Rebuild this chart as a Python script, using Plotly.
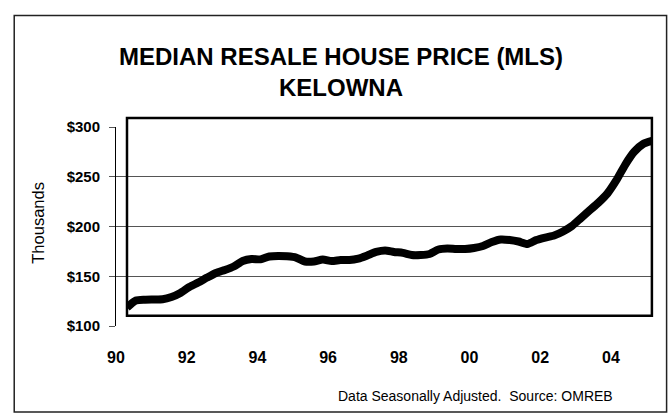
import plotly.graph_objects as go

# Quarterly median resale price (thousands of dollars), 1990 Q1 .. 2004 Q4
years = [1990 + i * 0.25 for i in range(60)]
prices = [
    118.6, 125.6, 126.4, 126.6, 126.8, 129.1, 133.2, 139.2, 143.7, 148.7,
    153.3, 156.3, 159.8, 165.3, 167.3, 167.0, 169.8, 170.4, 170.0, 168.8,
    164.8, 164.8, 166.8, 165.3, 166.3, 166.3, 167.8, 170.9, 174.4, 175.9,
    174.4, 173.5, 171.4, 171.4, 172.4, 176.9, 177.9, 177.4, 177.4, 178.4,
    180.4, 184.4, 186.9, 186.4, 184.9, 182.4, 186.4, 188.9, 191.0, 195.0,
    200.5, 208.4, 216.3, 224.1, 233.3, 246.5, 262.3, 275.1, 282.9, 286.0,
]
x_tick_vals = [1990, 1992, 1994, 1996, 1998, 2000, 2002, 2004]
x_tick_text = ["90", "92", "94", "96", "98", "00", "02", "04"]
y_tick_vals = [100, 150, 200, 250, 300]
y_tick_text = ["$100", "$150", "$200", "$250", "$300"]

FONT = "Liberation Sans, Arial, sans-serif"

W, H = 668, 413
L, R, T, B = 116.3, 15.6, 118, 87
pw = W - L - R
ph = H - T - B

def px(x):
    return (x - L) / pw

def py(y):
    return (H - B - y) / ph

fig = go.Figure()
# invisible trace so the main (visible) x axis is drawn
fig.add_trace(go.Scatter(
    x=[years[0], years[-1]], y=[prices[0], prices[-1]], xaxis="x", yaxis="y",
    mode="markers", marker=dict(opacity=0), showlegend=False, hoverinfo="skip",
))
fig.add_trace(go.Scatter(
    x=years, y=prices, xaxis="x2", yaxis="y", mode="lines",
    line=dict(color="black", width=8, shape="spline", smoothing=0.6),
    showlegend=False, hoverinfo="skip",
))

fig.update_layout(
    width=W, height=H,
    margin=dict(l=L, r=R, t=T, b=B),
    paper_bgcolor="white", plot_bgcolor="rgba(0,0,0,0)",
    font=dict(family=FONT, color="black"),
    xaxis=dict(
        domain=[0, px(641.7)], range=[1990, 2004.86],
        tickvals=x_tick_vals, ticktext=x_tick_text,
        showgrid=False, zeroline=False, showline=False, ticks="",
        tickfont=dict(size=16, family=FONT, color="black", weight="bold"),
        ticklabelstandoff=20,
    ),
    xaxis2=dict(
        domain=[px(127.3), 1], range=[1990, 2004.75],
        anchor="y", visible=False, showgrid=False, zeroline=False,
    ),
    yaxis=dict(
        domain=[0, py(127)], range=[100, 300],
        tickvals=y_tick_vals, ticktext=y_tick_text,
        showgrid=True, gridcolor="#555555", gridwidth=1,
        zeroline=False, showline=True, linecolor="black", linewidth=1,
        ticks="outside", ticklen=6, tickcolor="#555555",
        tickfont=dict(size=15, family=FONT, color="black", weight="bold"),
        ticklabelstandoff=6,
    ),
    shapes=[
        dict(type="rect", xref="paper", yref="paper",
             x0=px(127.3), x1=px(652.3), y0=py(315.7), y1=py(118),
             line=dict(color="black", width=2.5), layer="above"),
        dict(type="rect", xref="paper", yref="paper",
             x0=px(14.5), x1=px(667), y0=py(412), y1=py(15.5),
             line=dict(color="#222222", width=1.5)),
    ],
    annotations=[
        dict(text="MEDIAN RESALE HOUSE PRICE (MLS)", xref="paper", yref="paper",
             x=px(341), y=py(57), xanchor="center", yanchor="middle", showarrow=False,
             font=dict(size=24, family=FONT, color="black", weight="bold")),
        dict(text="KELOWNA", xref="paper", yref="paper",
             x=px(341), y=py(87), xanchor="center", yanchor="middle", showarrow=False,
             font=dict(size=24, family=FONT, color="black", weight="bold")),
        dict(text="Thousands", xref="paper", yref="paper", textangle=-90,
             x=px(38), y=py(223), xanchor="center", yanchor="middle", showarrow=False,
             font=dict(size=16.5, family=FONT, color="black")),
        dict(text="Data Seasonally Adjusted.\u00a0 Source: OMREB", xref="paper", yref="paper",
             x=px(615), y=py(396), xanchor="right", yanchor="middle", showarrow=False,
             font=dict(size=14, family=FONT, color="black")),
    ],
)

fig.write_html("out.html", config={"displayModeBar": False},
               post_script="document.body.style.margin='0';")
